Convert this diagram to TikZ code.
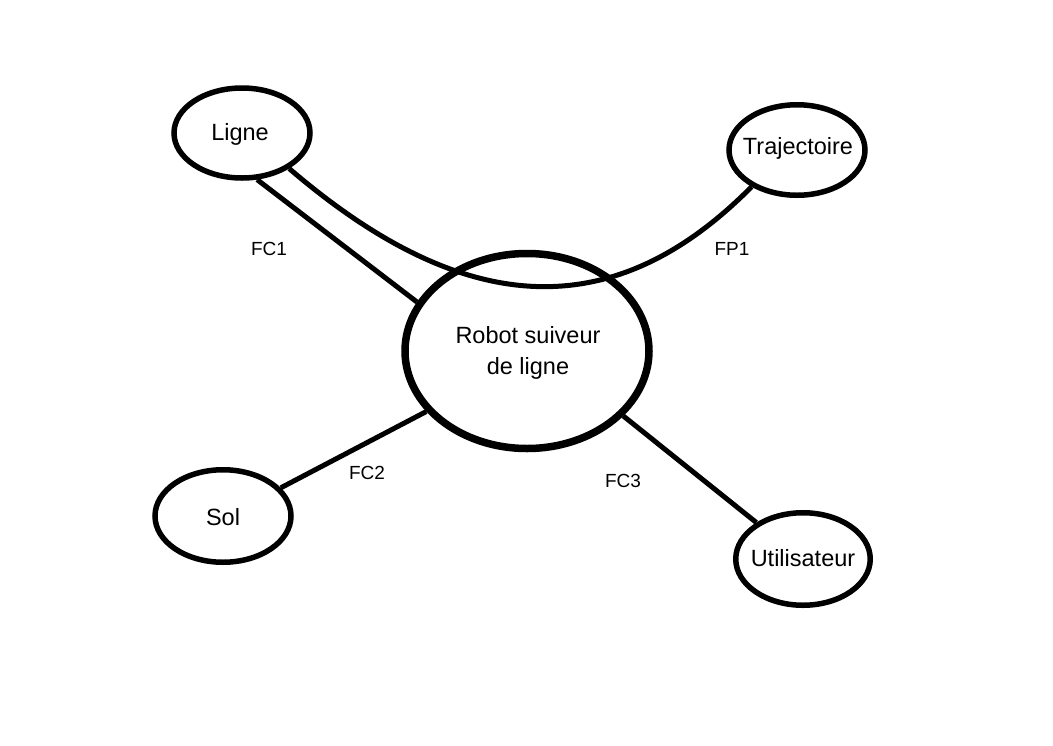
\documentclass[tikz,border=0pt]{standalone}
\usepackage{fontspec}
\setmainfont{Liberation Sans}
\usetikzlibrary{shapes.geometric}
\begin{document}
\begin{tikzpicture}[x=1pt,y=-1pt,
  ell/.style={draw=black, ellipse, line width=5.5pt, inner sep=0pt, fill=white},
  big/.style={draw=black, ellipse, line width=7.5pt, inner sep=0pt},
  conn/.style={draw=black, line width=5pt},
  nodetext/.style={font=\fontsize{23.5}{30.5}\selectfont, align=center, inner sep=0pt},
  lbl/.style={font=\fontsize{19}{22}\selectfont, inner sep=0pt}]
\useasboundingbox[fill=white] (0,0) rectangle (1053,745);
% nodes
\node[big, minimum width=244pt, minimum height=195pt] (R) at (527,351) {};
\node[ell, minimum width=136pt, minimum height=90pt] (L) at (242,133) {};
\node[ell, minimum width=136pt, minimum height=90.5pt] (T) at (797,150) {};
\node[ell, minimum width=136pt, minimum height=92.5pt] (S) at (223,516) {};
\node[ell, minimum width=134.5pt, minimum height=92.5pt] (U) at (803,559) {};
% texts
\node[nodetext] (Rt) at (528,353) {Robot suiveur\\de ligne};
\node[nodetext] (Lt) at (240,134) {Ligne};
\node[nodetext] (Tt) at (798,148) {Trajectoire};
\node[nodetext] (St) at (223,517) {Sol};
\node[nodetext] (Ut) at (803,558) {Utilisateur};
% connectors
\draw[conn] (L.-72) -- (R.156);
\draw[conn] (L.-37) .. controls (460,315) and (610,330) .. (T.-141);
\draw[conn] (S.26) -- (R.-149);
\draw[conn] (R.-34.5) -- (U.142);
% labels
\node[lbl] (fc1) at (269,249) {FC1};
\node[lbl] (fp1) at (732,249) {FP1};
\node[lbl] (fc2) at (367,473) {FC2};
\node[lbl] (fc3) at (623,481) {FC3};
\end{tikzpicture}
\end{document}
